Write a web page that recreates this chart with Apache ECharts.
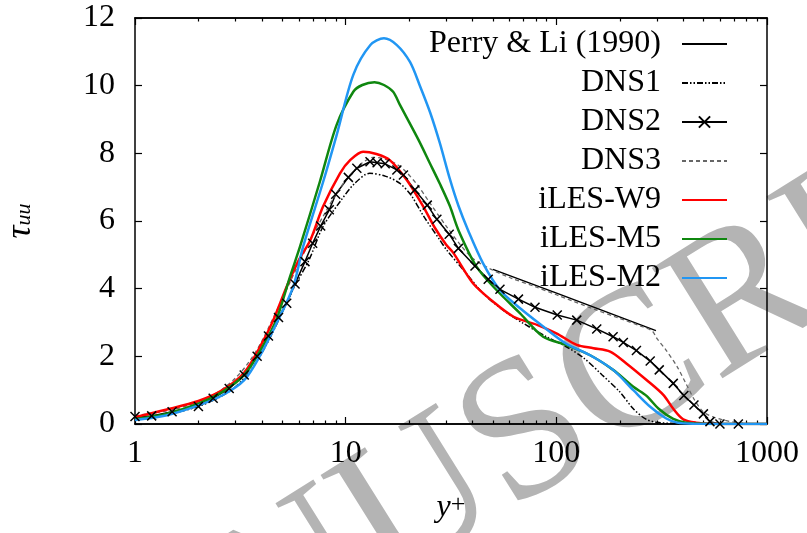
<!DOCTYPE html>
<html>
<head>
<meta charset="utf-8">
<script src="https://cdn.jsdelivr.net/npm/echarts@6/dist/echarts.min.js"></script>
<style>html,body{margin:0;padding:0;background:#fff}#c{width:807px;height:533px}</style>
</head>
<body>
<div id="c"></div>
<script>
// ---- data ----
const seriesNames = ['Perry & Li (1990)', 'DNS1', 'DNS2', 'DNS3', 'iLES-W9', 'iLES-M5', 'iLES-M2'];

const perryX = [50, 104, 297];
const perryY = [4.57, 3.83, 2.76];

const dns1X = [1, 1.5, 2, 2.5, 3, 3.5, 4, 4.5, 5, 5.7, 6.7, 7.8, 9.4, 11, 13, 15.5, 18.1, 20.5, 23.4, 27.9, 30.2, 37.4, 44.9, 55.7, 69.5, 89.7, 111, 135, 165, 200, 232, 265, 300, 400, 1000];
const dns1Y = [0.18, 0.32, 0.52, 0.78, 1.1, 1.55, 2.1, 2.7, 3.3, 4.05, 4.85, 5.83, 6.57, 7.1, 7.41, 7.32, 7.11, 6.75, 6.15, 5.45, 5.14, 4.45, 3.86, 3.37, 2.98, 2.58, 2.29, 1.95, 1.45, 0.95, 0.45, 0.15, 0.05, 0.01, 0];

const dns2X = [1, 1.2, 1.5, 2, 2.35, 2.8, 3.3, 3.8, 4.3, 4.8, 5.25, 5.75, 6.41, 6.97, 7.61, 8.36, 8.97, 10.3, 11.3, 13.05, 14.1, 15.4, 17.5, 18.8, 21.3, 24.4, 27.1, 31.0, 34.3, 41.1, 47.5, 54, 66.1, 79.2, 101, 125, 155.5, 186, 208, 240, 279, 308, 359, 403, 450, 499, 536, 598, 731];
const dns2Y = [0.22, 0.24, 0.36, 0.52, 0.76, 1.05, 1.45, 2.0, 2.6, 3.15, 3.57, 4.14, 4.80, 5.34, 5.85, 6.33, 6.79, 7.29, 7.56, 7.75, 7.72, 7.69, 7.51, 7.36, 6.92, 6.47, 6.05, 5.61, 5.19, 4.67, 4.28, 3.98, 3.69, 3.45, 3.22, 3.07, 2.81, 2.58, 2.41, 2.17, 1.86, 1.60, 1.20, 0.84, 0.56, 0.30, 0.07, 0, 0];

const dns3X = [1, 1.5, 2, 2.5, 3, 3.5, 4, 5, 6, 7, 8, 9, 10, 11, 12, 13.5, 15, 17, 19, 22, 25, 30, 35, 40, 48, 60, 80, 100, 150, 200, 250, 285, 300, 331, 375, 412, 453, 498, 560, 620, 720, 850, 1000];
const dns3Y = [0.25, 0.42, 0.66, 0.96, 1.36, 1.86, 2.45, 3.7, 4.75, 5.6, 6.25, 6.8, 7.2, 7.5, 7.72, 7.88, 7.85, 7.72, 7.5, 7.05, 6.55, 5.85, 5.3, 4.9, 4.6, 4.33, 4.05, 3.82, 3.4, 3.12, 2.9, 2.75, 2.53, 2.19, 1.69, 1.20, 0.71, 0.36, 0.2, 0.12, 0.04, 0.01, 0];

const w9X = [1, 1.4, 2, 2.6, 3.3, 4, 4.5, 5.3, 6, 6.8, 7.8, 9.4, 10.5, 12.1, 14, 16.2, 19.5, 23.4, 26.5, 30, 32.5, 40.2, 50, 62.7, 81, 100, 125, 150, 180, 215, 268, 322, 359, 400, 460, 550, 1000];
const w9Y = [0.2, 0.42, 0.68, 1.0, 1.52, 2.38, 3.02, 4.12, 4.85, 5.44, 6.42, 7.41, 7.8, 8.05, 7.98, 7.8, 7.21, 6.42, 5.8, 5.3, 5.05, 4.16, 3.62, 3.17, 2.93, 2.68, 2.34, 2.24, 2.14, 1.79, 1.30, 0.86, 0.45, 0.14, 0.04, 0.01, 0];

const m5X = [1, 1.4, 2, 2.6, 3.3, 4, 4.7, 5.44, 6.07, 7.54, 9.06, 10.87, 12, 13.7, 15.2, 16.8, 18.1, 22.2, 25, 28, 31.2, 34.3, 41.8, 52, 67.3, 86.6, 111, 144, 186, 232, 268, 306, 359, 412, 500, 1000];
const m5Y = [0.15, 0.3, 0.6, 0.95, 1.45, 2.25, 3.1, 4.35, 5.24, 7.16, 8.84, 9.82, 10.02, 10.10, 10.02, 9.82, 9.43, 8.39, 7.73, 7.1, 6.45, 5.73, 4.65, 3.96, 3.27, 2.58, 2.34, 2.04, 1.60, 1.10, 0.83, 0.45, 0.15, 0.04, 0.01, 0];

const m2X = [1, 1.4, 2, 2.6, 3.3, 3.9, 4.7, 5.64, 6.28, 7.82, 9.06, 10.87, 13.1, 15.2, 17.5, 20.2, 22.5, 25.2, 28, 31.2, 34.3, 38.1, 44.9, 54, 67.3, 86.6, 111, 144, 186, 232, 279, 331, 375, 450, 1000];
const m2Y = [0.12, 0.25, 0.55, 0.85, 1.3, 1.99, 2.98, 4.06, 5.24, 7.16, 8.54, 10.32, 11.2, 11.4, 11.2, 10.7, 10.0, 9.2, 8.3, 7.25, 6.45, 5.73, 4.75, 3.96, 3.42, 2.88, 2.38, 2.04, 1.60, 1.00, 0.51, 0.17, 0.04, 0.01, 0];

const xMajorTicks = [1, 10, 100, 1000];
const xMinorTicks = [2, 3, 4, 5, 6, 7, 8, 9, 20, 30, 40, 50, 60, 70, 80, 90, 200, 300, 400, 500, 600, 700, 800, 900];
const watermarkText = 'MANUSCRIPT';

// ---- chart ----
const FONT = '"Liberation Serif", "DejaVu Serif", serif';
const pair = (xs, ys) => xs.map((x, i) => [x, ys[i]]);
const crossPath = 'path://M0,0L10,10M10,0L0,10';

const axisLineStyle = { show: true, lineStyle: { color: '#000', width: 1.5 } };

function xAxisDef(pos, ticks, len, labels) {
  return {
    type: 'log', logBase: 10, min: 1, max: 1000, position: pos,
    axisLine: axisLineStyle,
    axisTick: { show: true, inside: true, length: len, customValues: ticks, lineStyle: { color: '#000', width: 1.2 } },
    axisLabel: labels ? { show: true, customValues: xMajorTicks, formatter: v => String(v), fontFamily: FONT, fontSize: 32, color: '#000', margin: 14 } : { show: false },
    splitLine: { show: false },
    minorTick: { show: false }
  };
}

const theta = 32 * Math.PI / 180;

const option = {
  animation: false,
  backgroundColor: '#fff',
  grid: { left: 135, right: 40, top: 18, bottom: 109, outerBoundsMode: 'none', containLabel: false },
  graphic: [{
    type: 'text', x: -37, y: 791, rotation: theta, z: -10, silent: true,
    style: { text: watermarkText, fontFamily: FONT, fontSize: 200, fill: '#b4b4b4', align: 'left', verticalAlign: 'middle' }
  }],
  xAxis: [
    Object.assign(xAxisDef('bottom', xMajorTicks, 7, true), {
      name: '{a|y}{b|+}', nameLocation: 'middle', nameGap: 68,
      nameTextStyle: {
        rich: {
          a: { fontFamily: FONT, fontStyle: 'italic', fontSize: 32, color: '#000', lineHeight: 32, verticalAlign: 'bottom', padding: [12, 0, 0, 0] },
          b: { fontFamily: FONT, fontSize: 26, color: '#000', lineHeight: 26, verticalAlign: 'top' }
        }
      }
    }),
    xAxisDef('bottom', xMinorTicks, 3.5, false),
    xAxisDef('top', xMajorTicks, 7, false),
    xAxisDef('top', xMinorTicks, 3.5, false)
  ],
  yAxis: [
    {
      type: 'value', min: 0, max: 12, interval: 2, position: 'left',
      axisLine: axisLineStyle,
      axisTick: { show: true, inside: true, length: 7, lineStyle: { color: '#000', width: 1.2 } },
      axisLabel: { fontFamily: FONT, fontSize: 32, color: '#000', margin: 20 },
      splitLine: { show: false },
      name: '{t|τ}{s|uu}', nameLocation: 'middle', nameGap: 100, nameRotate: 90,
      nameTextStyle: {
        rich: {
          t: { fontFamily: FONT, fontStyle: 'italic', fontSize: 36, color: '#000', lineHeight: 32, verticalAlign: 'top' },
          s: { fontFamily: FONT, fontStyle: 'italic', fontSize: 22, color: '#000', lineHeight: 22, verticalAlign: 'bottom', padding: [14, 0, 0, 0] }
        }
      }
    },
    {
      type: 'value', min: 0, max: 12, interval: 2, position: 'right',
      axisLine: axisLineStyle,
      axisTick: { show: true, inside: true, length: 7, lineStyle: { color: '#000', width: 1.2 } },
      axisLabel: { show: false },
      splitLine: { show: false }
    }
  ],
  legend: {
    orient: 'vertical', right: 79, top: 28, align: 'right', padding: 0,
    itemGap: 7, itemWidth: 45, itemHeight: 14,
    itemStyle: { opacity: 0 },
    data: seriesNames.map(n => n === 'DNS2' ? { name: n, itemStyle: { opacity: 1 } } : { name: n }),
    textStyle: { fontFamily: FONT, fontSize: 32, color: '#000', lineHeight: 22, padding: [0, 16, 0, 0] }
  },
  series: [
    { name: seriesNames[0], type: 'line', data: pair(perryX, perryY), symbol: 'none', lineStyle: { color: '#000', width: 1.5 }, itemStyle: { color: '#000' } },
    { name: seriesNames[1], type: 'line', data: pair(dns1X, dns1Y), symbol: 'none', smooth: 0.3, lineStyle: { color: '#000', width: 1.5, type: [6, 2, 1.5, 2, 1.5, 2] }, itemStyle: { color: '#000' } },
    { name: seriesNames[2], type: 'line', data: pair(dns2X, dns2Y), symbol: crossPath, symbolSize: 9, showSymbol: true, lineStyle: { color: '#000', width: 1.5 }, itemStyle: { color: '#000', borderColor: '#000', borderWidth: 1.5 } },
    { name: seriesNames[3], type: 'line', data: pair(dns3X, dns3Y), symbol: 'none', smooth: 0.3, lineStyle: { color: '#666', width: 1.3, type: [4, 3] }, itemStyle: { color: '#666' } },
    { name: seriesNames[4], type: 'line', data: pair(w9X, w9Y), symbol: 'none', smooth: 0.3, lineStyle: { color: '#ff0000', width: 2.5 }, itemStyle: { color: '#ff0000' } },
    { name: seriesNames[5], type: 'line', data: pair(m5X, m5Y), symbol: 'none', smooth: 0.3, lineStyle: { color: '#0f870f', width: 2.5 }, itemStyle: { color: '#0f870f' } },
    { name: seriesNames[6], type: 'line', data: pair(m2X, m2Y), symbol: 'none', smooth: 0.3, lineStyle: { color: '#2196f3', width: 2.5 }, itemStyle: { color: '#2196f3' } }
  ]
};

const chart = echarts.init(document.getElementById('c'), null, { renderer: 'canvas' });
chart.setOption(option);
</script>
</body>
</html>
